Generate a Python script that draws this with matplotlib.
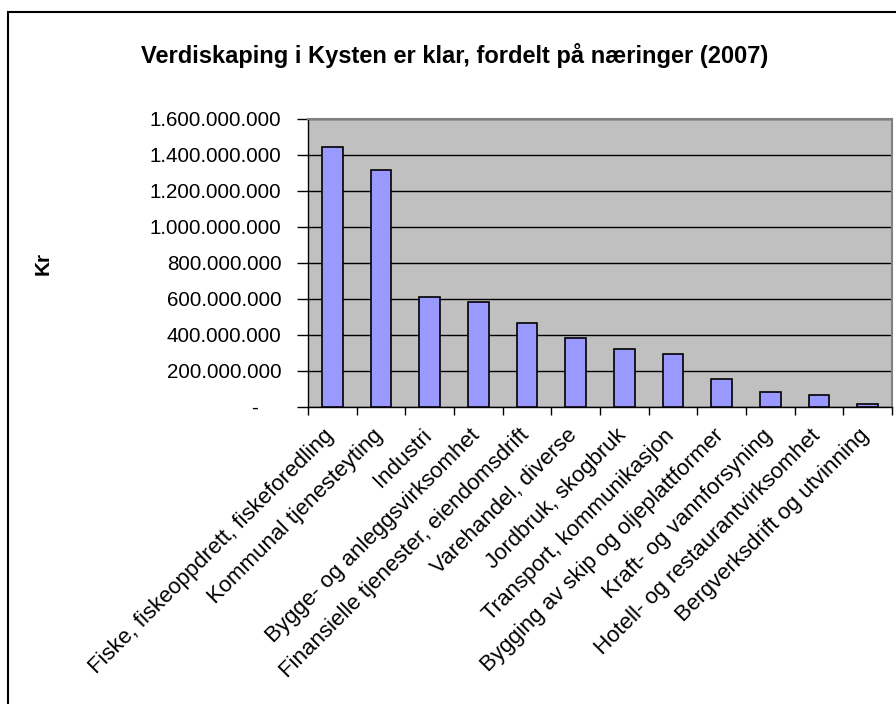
import matplotlib.pyplot as plt
import matplotlib.patches as patches
from matplotlib.ticker import FuncFormatter, MultipleLocator
import numpy as np

plt.rcParams["font.family"] = ["Liberation Sans", "DejaVu Sans"]

# Verdiskaping per næring (kr), 2007
naeringer = [
    "Fiske, fiskeoppdrett, fiskeforedling",
    "Kommunal tjenesteyting",
    "Industri",
    "Bygge- og anleggsvirksomhet",
    "Finansielle tjenester, eiendomsdrift",
    "Varehandel, diverse",
    "Jordbruk, skogbruk",
    "Transport, kommunikasjon",
    "Bygging av skip og oljeplattformer",
    "Kraft- og vannforsyning",
    "Hotell- og restaurantvirksomhet",
    "Bergverksdrift og utvinning",
]
verdiskaping = [
    1446e6, 1317e6, 613e6, 585e6, 468e6, 381e6,
    324e6, 296e6, 154e6, 85e6, 68e6, 15e6,
]
y_ticks = np.arange(0, 1.6e9 + 1, 2e8)


def kr_format(v, pos):
    if v == 0:
        return "-    "
    return f"{int(v):,}".replace(",", ".")


fig = plt.figure(figsize=(8.96, 7.04), dpi=100)
ax = fig.add_axes([308 / 896, 1 - 407 / 704, 584 / 896, 288 / 704])

x = np.arange(len(naeringer))
ax.bar(x, verdiskaping, width=0.42, color="#9999FF", edgecolor="black",
       linewidth=1.2, zorder=3)

ax.set_facecolor("#C0C0C0")
ax.set_xlim(-0.5, len(naeringer) - 0.5)
ax.set_ylim(0, 1.6e9)
ax.set_yticks(y_ticks)
ax.yaxis.set_major_formatter(FuncFormatter(kr_format))
ax.grid(axis="y", color="black", linewidth=1.0, zorder=1)

# labels sit a little left of the category centre, as in Excel
ax.set_xticks(x - 0.18)
ax.set_xticklabels(naeringer, rotation=45, ha="right", rotation_mode="anchor",
                   fontsize=16)
ax.xaxis.set_minor_locator(MultipleLocator(1, offset=0.5))
ax.tick_params(axis="x", which="major", length=0, pad=13)
ax.tick_params(axis="x", which="minor", length=6, width=1, direction="out")
ax.tick_params(axis="y", length=8, width=1, direction="out", labelsize=14.8,
               pad=11)

for s in ["top", "right"]:
    ax.spines[s].set_color("#808080")
    ax.spines[s].set_linewidth(1.5)
for s in ["left", "bottom"]:
    ax.spines[s].set_color("black")
    ax.spines[s].set_linewidth(1)

ax.set_ylabel("Kr", fontsize=15, fontweight="bold", labelpad=0)
ax.yaxis.set_label_coords(-0.438, 0.5)

fig.text(455 / 896, 1 - 55 / 704,
         "Verdiskaping i Kysten er klar, fordelt på næringer (2007)",
         ha="center", va="center", fontsize=17, fontweight="bold")

# chart border (right and bottom edges fall outside the picture)
fig.patches.append(patches.Rectangle(
    (8 / 896, -0.1), 1.2, 1.1 - 12 / 704, transform=fig.transFigure,
    fill=False, edgecolor="black", linewidth=1.5))

fig.savefig("out.png", dpi=100)
